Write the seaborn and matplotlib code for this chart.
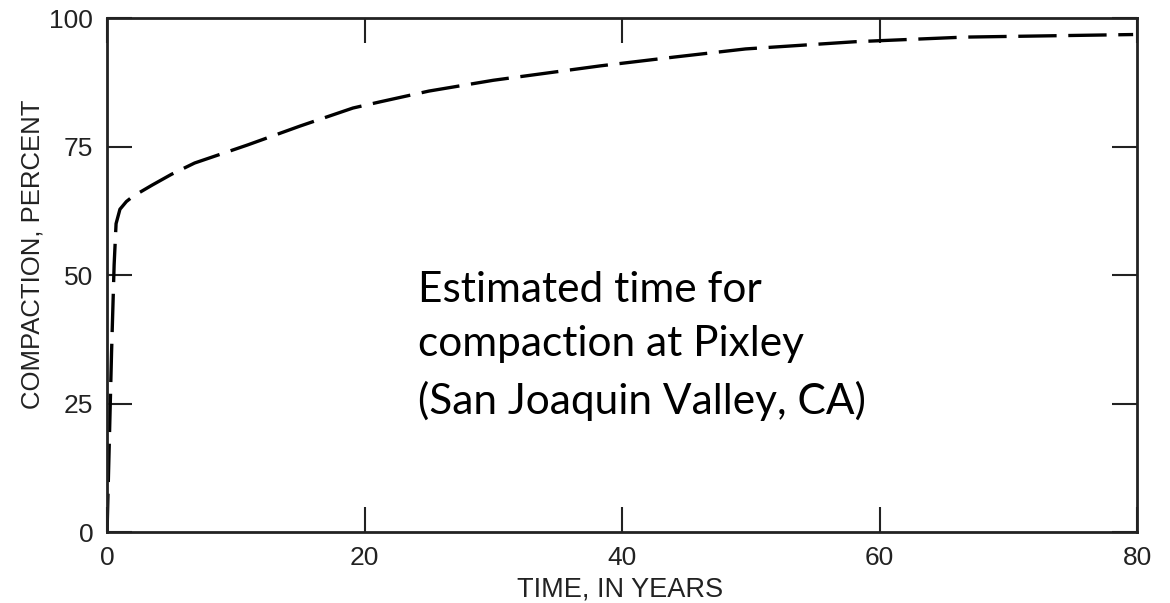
import pandas as pd
import seaborn as sns
import matplotlib.pyplot as plt

# Values (time in years, compaction in percent)
YEARS = [0, 0.15, 0.35, 0.55, 0.7, 1.0, 1.5, 2.0, 3.5, 5.0, 6.8, 10.9,
         15.0, 19.1, 21.2, 25.0, 30.0, 38.3, 44.0, 49.6, 58.1, 66.6, 79.7]
COMPACTION = [0, 15, 35, 52, 60, 62.8, 64.3, 65.3, 67.5, 69.6, 71.8, 75.3,
              79.0, 82.5, 83.7, 85.8, 87.9, 90.7, 92.4, 94.0, 95.4, 96.3, 96.8]

X_TICKS = [0, 20, 40, 60, 80]
Y_TICKS = [0, 25, 50, 75, 100]

NOTE = "Estimated time for\ncompaction at Pixley\n(San Joaquin Valley, CA)"

# =============================================================================
# PLOT
# =============================================================================

sns.set_theme(style="ticks")
plt.rcParams["font.family"] = ["Liberation Sans", "DejaVu Sans"]

df = pd.DataFrame({"Years": YEARS, "Compaction": COMPACTION})

fig = plt.figure(figsize=(11.7, 6.03), dpi=100)
ax = fig.add_axes([0.0915, 0.1177, 0.8803, 0.8523])

sns.lineplot(
    data=df,
    x="Years",
    y="Compaction",
    color="black",
    linewidth=2.4,
    linestyle=(0, (11.5, 3.5)),
    ax=ax,
)

ax.set_xlim(0, 80)
ax.set_ylim(0, 100)
ax.set_xticks(X_TICKS)
ax.set_yticks(Y_TICKS)
ax.tick_params(
    which="both", direction="in", length=18, width=1.5, color="#222222",
    top=True, right=True, labelsize=19, pad=10, labelcolor="#222222",
)

for side in ["left", "right", "top", "bottom"]:
    ax.spines[side].set_visible(True)
    ax.spines[side].set_linewidth(2.0)
    ax.spines[side].set_color("#222222")

ax.set_xlabel("TIME, IN YEARS", fontsize=19.5, color="#222222")
ax.set_ylabel("COMPACTION, PERCENT", fontsize=18.5, color="#222222")
ax.xaxis.set_label_coords(0.498, -0.0875)
ax.yaxis.set_label_coords(-0.061, 0.54)

# va="baseline" pins the last line's baseline
ax.text(
    0.302, 0.2296, NOTE,
    transform=ax.transAxes,
    ha="left", va="baseline",
    fontsize=30.5, family=["Lato", "DejaVu Sans"],
    linespacing=1.53, color="black",
)

fig.savefig("out.png", dpi=100)
plt.close(fig)
